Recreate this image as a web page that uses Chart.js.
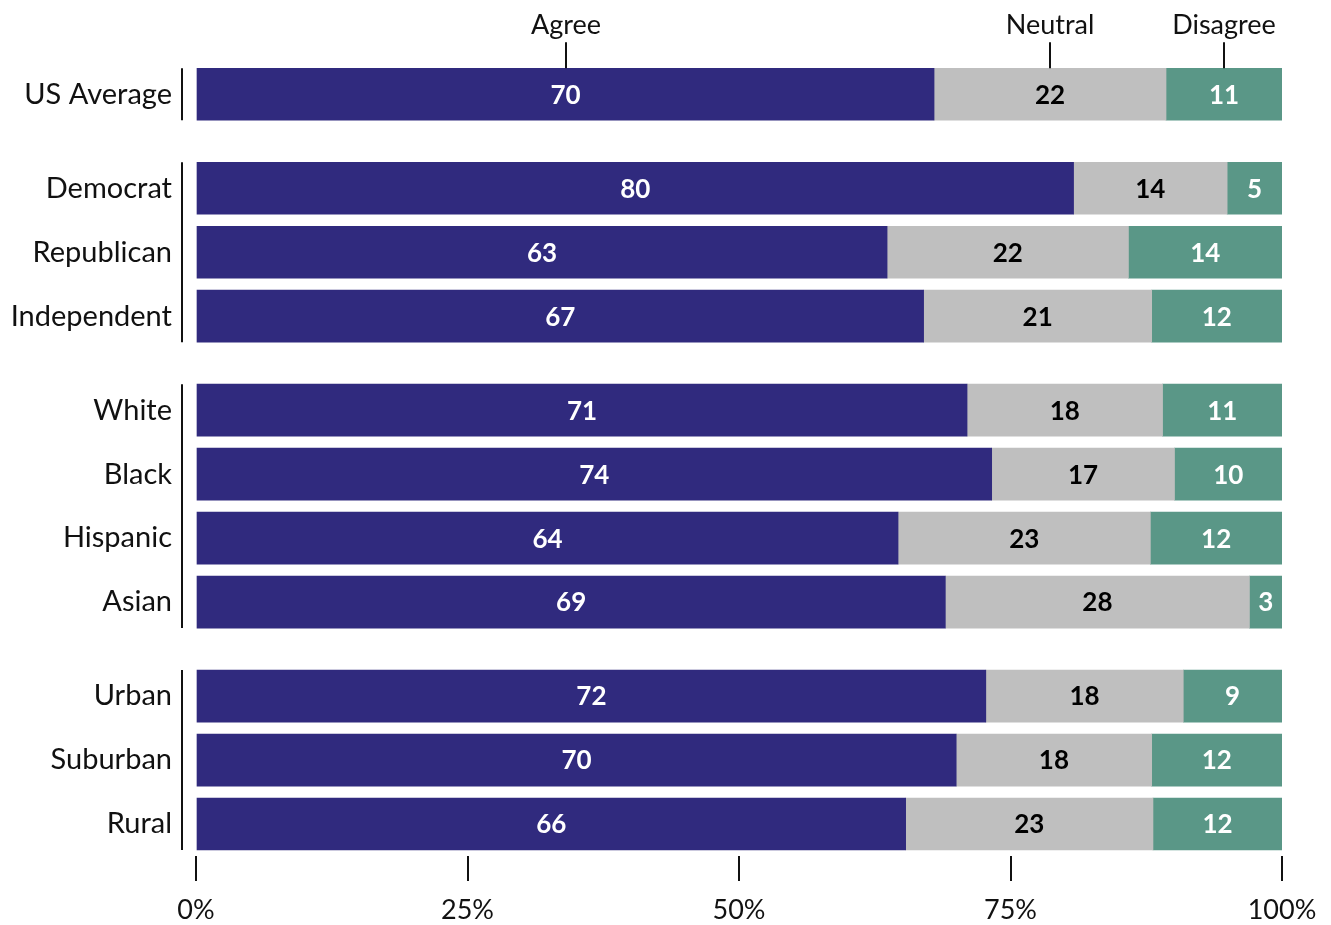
<!DOCTYPE html>
<html>
<head>
<meta charset="utf-8">
<script src="https://cdn.jsdelivr.net/npm/chart.js@4.4.1/dist/chart.umd.min.js"></script>
<style>
html, body { margin: 0; padding: 0; background: #fff; }
#wrap { width: 1331px; height: 925px; }
</style>
</head>
<body>
<div id="wrap"><canvas id="chart"></canvas></div>
<script>
// --- Data ---
const categories = ['US Average', 'Democrat', 'Republican', 'Independent', 'White', 'Black', 'Hispanic', 'Asian', 'Urban', 'Suburban', 'Rural'];
const groups = [0, 1, 1, 1, 2, 2, 2, 2, 3, 3, 3];
const agree = [70, 80, 63, 67, 71, 74, 64, 69, 72, 70, 66];
const neutral = [22, 14, 22, 21, 18, 17, 23, 28, 18, 18, 23];
const disagree = [11, 5, 14, 12, 11, 10, 12, 3, 9, 12, 12];
const seriesNames = ['Agree', 'Neutral', 'Disagree'];
const xTickValues = [0, 25, 50, 75, 100];

const colors = {
    agree: '#302a7e',
    neutral: '#bfbfbf',
    disagree: '#5a9787',
    text: '#111'
};

const FONT = 'Lato, "Open Sans", sans-serif';
const BAR = 52;
const GROUP_GAP = 0.47; // extra space between groups, in rows

// row position = index + extra gap per group
const positions = categories.map((c, i) => i + groups[i] * GROUP_GAP);
const totals = categories.map((c, i) => agree[i] + neutral[i] + disagree[i]);
const lastPos = positions[positions.length - 1];
const Y_MIN = -0.41;
const Y_MAX = lastPos + 0.5;

function makeDataset(label, values, color) {
    return {
        label: label,
        raws: values,
        data: values.map((v, i) => ({ x: v / totals[i] * 100, y: positions[i] })),
        backgroundColor: color,
        borderWidth: 0,
        barThickness: BAR
    };
}

// --- Plugin: values in bars, header labels, group brackets ---
const overlayPlugin = {
    id: 'overlay',
    afterDatasetsDraw(chart) {
        const ctx = chart.ctx;
        const yScale = chart.scales.y;
        const area = chart.chartArea;
        ctx.save();

        // values inside bars
        ctx.font = 'bold 26px ' + FONT;
        ctx.textAlign = 'center';
        ctx.textBaseline = 'middle';
        chart.data.datasets.forEach((ds, di) => {
            chart.getDatasetMeta(di).data.forEach((bar, j) => {
                ctx.fillStyle = di === 1 ? '#000' : '#fff';
                ctx.fillText(ds.raws[j], (bar.x + bar.base) / 2, bar.y + 1);
            });
        });

        // header labels over first bar
        ctx.font = '27px ' + FONT;
        ctx.fillStyle = colors.text;
        ctx.strokeStyle = colors.text;
        ctx.lineWidth = 2;
        chart.data.datasets.forEach((ds, di) => {
            const bar = chart.getDatasetMeta(di).data[0];
            const cx = Math.round((bar.x + bar.base) / 2);
            const top = bar.y - BAR / 2;
            ctx.beginPath();
            ctx.moveTo(cx, top);
            ctx.lineTo(cx, top - 26);
            ctx.stroke();
            ctx.fillText(ds.label, cx, top - 43);
        });

        // group brackets
        const bx = area.left - 14;
        [...new Set(groups)].forEach(g => {
            const first = groups.indexOf(g);
            const last = groups.lastIndexOf(g);
            ctx.beginPath();
            ctx.moveTo(bx, yScale.getPixelForValue(positions[first]) - BAR / 2);
            ctx.lineTo(bx, yScale.getPixelForValue(positions[last]) + BAR / 2);
            ctx.stroke();
        });

        ctx.restore();
    }
};

new Chart(document.getElementById('chart'), {
    type: 'bar',
    data: {
        datasets: [
            makeDataset(seriesNames[0], agree, colors.agree),
            makeDataset(seriesNames[1], neutral, colors.neutral),
            makeDataset(seriesNames[2], disagree, colors.disagree)
        ]
    },
    options: {
        indexAxis: 'y',
        responsive: true,
        maintainAspectRatio: false,
        animation: false,
        layout: { padding: { top: 68, right: 49, bottom: 0, left: 0 } },
        plugins: {
            legend: { display: false },
            tooltip: { enabled: false }
        },
        scales: {
            x: {
                type: 'linear',
                stacked: true,
                min: 0,
                max: 100,
                offset: false,
                afterBuildTicks: scale => {
                    scale.ticks = xTickValues.map(v => ({ value: v }));
                    scale.min = 0;
                    scale.max = 100;
                },
                afterFit: scale => { scale.height = 69; },
                border: { display: false },
                grid: {
                    drawOnChartArea: false,
                    drawTicks: true,
                    tickLength: 25,
                    tickColor: colors.text,
                    lineWidth: 2,
                    offset: false
                },
                ticks: {
                    color: colors.text,
                    font: { family: FONT, size: 27 },
                    padding: 13,
                    maxRotation: 0,
                    callback: v => v + '%'
                }
            },
            y: {
                type: 'linear',
                stacked: true,
                reverse: true,
                offset: false,
                min: Y_MIN,
                max: Y_MAX,
                afterBuildTicks: scale => {
                    scale.ticks = positions.map(v => ({ value: v }));
                    scale.min = Y_MIN;
                    scale.max = Y_MAX;
                },
                afterFit: scale => { scale.width = 196; },
                border: { display: false },
                grid: { display: false, drawTicks: false, offset: false },
                ticks: {
                    color: colors.text,
                    font: { family: FONT, size: 29 },
                    padding: 24,
                    autoSkip: false,
                    callback: (v, i) => categories[i]
                }
            }
        }
    },
    plugins: [overlayPlugin]
});
</script>
</body>
</html>
